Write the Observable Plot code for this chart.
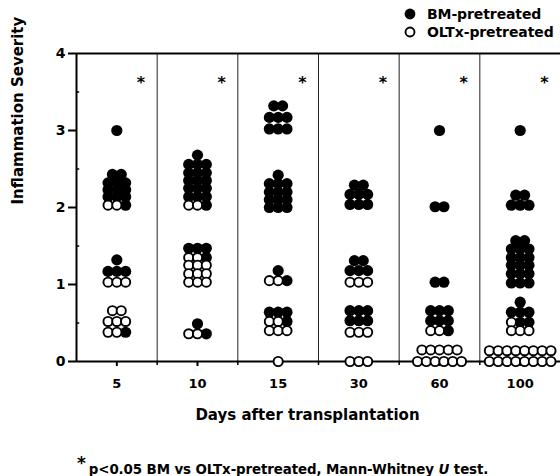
<!DOCTYPE html>
<html><head><meta charset="utf-8">
<script src="https://cdn.jsdelivr.net/npm/d3@7"></script>
<script src="https://cdn.jsdelivr.net/npm/@observablehq/plot@0.6"></script>
<style>
html,body{margin:0;padding:0;background:#fff;}
#wrap{position:relative;width:560px;height:476px;overflow:hidden;font-family:"DejaVu Sans",sans-serif;font-weight:bold;color:#000;}
#wrap svg.plot{position:absolute;left:0;top:0;}
.leg{position:absolute;left:403px;font-size:14px;line-height:16px;white-space:nowrap;display:flex;align-items:center;letter-spacing:-0.1px;}
.leg svg{margin-right:10px;}
#cap{position:absolute;left:77px;top:458px;font-size:13.4px;white-space:nowrap;letter-spacing:-0.1px;}
#cap .st{font-size:17px;position:relative;top:-5px;margin-right:3px;}
</style></head><body><div id="wrap">
<div class="leg" style="top:6px"><svg width="14" height="14"><circle cx="7" cy="7" r="5.4" fill="#000"/></svg>BM-pretreated</div>
<div class="leg" style="top:24px"><svg width="14" height="14"><circle cx="7" cy="7" r="4.5" fill="#fff" stroke="#000" stroke-width="1.9"/></svg>OLTx-pretreated</div>
<div id="cap"><span class="st">*</span>p&lt;0.05 BM vs OLTx-pretreated, Mann-Whitney <i>U</i> test.</div>
</div>
<script>
// Day categories (x axis)
const days = ["5", "10", "15", "30", "60", "100"];
const yTicks = [0, 1, 2, 3, 4];

// [severity value, number of animals] per day
const bm5 = [[3,1],[2.43,2],[2.32,3],[2.23,3],[2.14,3],[2.03,1],[1.32,1],[1.17,3],[0.38,1]];
const oltx5 = [[2.03,2],[1.03,3],[0.66,2],[0.52,3],[0.38,2]];
const bm10 = [[2.68,1],[2.56,3],[2.45,3],[2.35,3],[2.25,3],[2.14,3],[2.03,1],[1.47,3],[1.35,1],[0.49,1],[0.36,1]];
const oltx10 = [[2.03,2],[1.35,2],[1.25,3],[1.14,3],[1.03,3],[0.36,2]];
const bm15 = [[3.32,2],[3.17,3],[3.02,3],[2.42,1],[2.31,3],[2.2,3],[2.1,3],[2.0,3],[1.18,1],[1.05,1],[0.64,3],[0.52,1]];
const oltx15 = [[1.05,2],[0.52,2],[0.4,3],[0,1]];
const bm30 = [[2.29,2],[2.17,3],[2.04,3],[1.31,2],[1.18,3],[0.66,3],[0.53,3]];
const oltx30 = [[1.03,3],[0.38,3],[0,3]];
const bm60 = [[3,1],[2.01,2],[1.03,2],[0.66,3],[0.53,3],[0.4,1]];
const oltx60 = [[0.4,2],[0.15,5],[0,6]];
const bm100 = [[3,1],[2.16,2],[2.03,3],[1.57,2],[1.46,3],[1.35,3],[1.25,3],[1.14,3],[1.02,3],[0.77,1],[0.64,3],[0.51,2]];
const oltx100 = [[0.51,1],[0.4,3],[0.14,8],[0,8]];

const bmData = [bm5, bm10, bm15, bm30, bm60, bm100];
const oltxData = [oltx5, oltx10, oltx15, oltx30, oltx60, oltx100];

// lay out points of equal value side by side (OLTx left, BM right)
const W = 560, ML = 76;
const pitch = 8.8 / ((W - ML) / days.length); // horizontal spacing in x units
const points = [];
days.forEach((d, i) => {
  const rows = new Map();
  const add = (arr, group) => arr.forEach(([v, n]) => {
    const k = v.toFixed(2);
    if (!rows.has(k)) rows.set(k, []);
    for (let j = 0; j < n; j++) rows.get(k).push({group, value: v});
  });
  add(oltxData[i], "OLTx");
  add(bmData[i], "BM");
  for (const list of rows.values()) {
    const n = list.length;
    list.forEach((p, k) => points.push({x: i + (k - (n - 1) / 2) * pitch, y: p.value, group: p.group}));
  }
});

const idx = days.map((d, i) => i);
const bounds = idx.slice(1).map(i => i - 0.5);

const chart = Plot.plot({
  width: W, height: 476,
  marginLeft: ML, marginRight: 0, marginTop: 53, marginBottom: 115,
  x: {domain: [-0.5, 5.5], axis: null},
  y: {domain: [0, 4], axis: null},
  style: {fontFamily: "DejaVu Sans", fontWeight: "bold", background: "transparent", color: "#000", overflow: "visible"},
  marks: [
    Plot.ruleX(bounds, {y1: 0, y2: 4, stroke: "#222", strokeWidth: 1}),
    Plot.ruleY([4], {x1: -0.5, x2: 5.5, stroke: "#000", strokeWidth: 2}),
    Plot.ruleY([0.5, 1.5, 2.5, 3.5], {x1: -0.5, x2: -0.46, stroke: "#000", strokeWidth: 1.5}),
    Plot.axisY({ticks: yTicks, tickSize: 8, tickPadding: 3, fontSize: 14, tickFormat: d => String(d), label: null, strokeWidth: 2}),
    Plot.axisX({ticks: idx, tickSize: 5, tickPadding: 12, fontSize: 13, tickFormat: i => days[i], label: null, strokeWidth: 2}),
    Plot.axisX({ticks: bounds, tickSize: 4, tickFormat: () => "", label: null, strokeWidth: 1.5}),
    Plot.ruleX([-0.5], {y1: 0, y2: 4, stroke: "#000", strokeWidth: 2}),
    Plot.ruleY([0], {x1: -0.5, x2: 5.5, stroke: "#000", strokeWidth: 2}),
    Plot.dot(points.filter(p => p.group === "BM"), {x: "x", y: "y", r: 5.6, fill: "#000", stroke: "none"}),
    Plot.dot(points.filter(p => p.group === "OLTx"), {x: "x", y: "y", r: 4.6, fill: "#fff", stroke: "#000", strokeWidth: 1.9}),
    Plot.text(idx, {x: i => i + 0.3, y: 3.66, text: () => "*", fontSize: 16, dy: 3}),
    Plot.text(["Inflammation Severity"], {frameAnchor: "left", rotate: -90, dx: -58, dy: -3, fontSize: 15}),
    Plot.text(["Days after transplantation"], {frameAnchor: "bottom", dx: -11, dy: 58, fontSize: 15})
  ]
});
chart.classList.add("plot");
document.getElementById("wrap").prepend(chart);
</script>
</body></html>
